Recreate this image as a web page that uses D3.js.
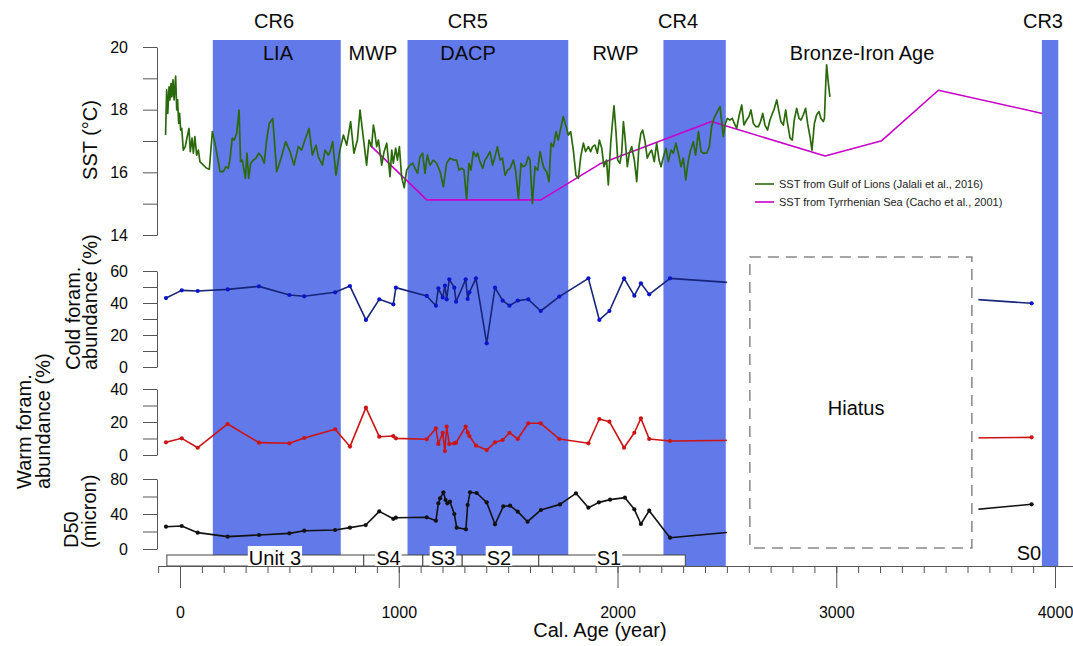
<!DOCTYPE html>
<html>
<head>
<meta charset="utf-8">
<script src="https://cdn.jsdelivr.net/npm/d3@7"></script>
<style>
  html, body { margin: 0; padding: 0; background: #fff; }
  svg { display: block; font-family: "Liberation Sans", Arial, Helvetica, sans-serif; }
</style>
</head>
<body>
<svg id="chart" width="1073" height="646"></svg>
<script>
// ---------------- data ----------------
// Cold-period bands (cal. years)
const bandStart = [150, 1040, 2210, 3940];
const bandEnd   = [735, 1775, 2495, 4015];
const crLabels   = ["CR6", "CR5", "CR4", "CR3"];
const crLabelAge = [430, 1316, 2277, 3945];

// Climate periods
const periodLabels = ["LIA", "MWP", "DACP", "RWP", "Bronze-Iron Age"];
const periodAge    = [448, 882, 1317, 1991, 3118];

// SST from Gulf of Lions (Jalali et al., 2016): [age, °C]
const sstGulf = [
  [-66,17.19],[-61,18.63],[-56,17.88],[-50,18.73],[-46,18.31],[-41,18.84],[-37,18.41],[-32,18.95],
  [-27,18.31],[-20,19.07],[-15,17.99],[-11,18.31],[-6,17.56],[-2,17.88],[3,17.35],[8,17.40],
  [15,16.71],[24,16.82],[33,17.14],[41,17.40],[47,16.66],[55,17.09],[61,16.61],[68,17.14],
  [76,16.55],[84,16.71],[91,16.34],[107,16.23],[122,16.13],[134,16.10],[140,16.61],[148,17.30],
  [160,16.93],[171,16.50],[183,16.02],[198,16.02],[210,16.18],[221,16.13],[228,16.39],[239,17.09],
  [248,17.03],[259,17.24],[270,17.99],[277,16.34],[285,16.39],[291,16.13],[299,15.81],[306,16.61],
  [314,15.81],[323,16.29],[335,16.39],[347,16.45],[360,16.61],[373,16.50],[385,16.29],[396,17.03],
  [408,17.56],[424,17.72],[442,16.02],[462,16.45],[483,16.98],[503,16.66],[521,16.23],[541,16.82],
  [556,16.71],[571,17.03],[590,17.40],[605,16.55],[622,16.87],[632,16.50],[651,16.23],[663,16.71],
  [678,16.55],[686,16.66],[698,16.98],[713,15.91],[731,16.71],[747,17.19],[762,16.87],[780,17.62],
  [795,16.61],[811,17.03],[823,17.99],[841,16.93],[853,16.23],[864,17.03],[876,16.82],[884,17.51],
  [891,17.24],[899,16.82],[907,17.03],[922,16.23],[933,16.66],[945,16.93],[952,16.45],[960,15.86],
  [968,16.71],[975,16.29],[986,16.77],[994,16.39],[1003,16.82],[1013,15.86],[1025,15.51],[1036,16.07],
  [1051,16.23],[1064,16.29],[1074,16.13],[1086,15.97],[1097,16.50],[1109,16.61],[1120,15.97],[1131,16.55],
  [1143,16.23],[1158,16.39],[1173,16.29],[1189,16.02],[1204,15.54],[1219,16.29],[1234,16.45],[1254,16.39],
  [1265,16.39],[1275,16.07],[1288,16.13],[1298,16.07],[1310,15.15],[1321,16.29],[1330,16.07],[1341,16.66],
  [1353,16.50],[1361,16.61],[1371,16.34],[1384,16.13],[1394,16.39],[1405,16.50],[1417,16.66],[1429,16.23],
  [1440,16.50],[1451,16.82],[1463,16.39],[1474,16.45],[1486,15.91],[1498,16.07],[1509,16.13],[1524,16.39],
  [1534,16.07],[1547,15.15],[1559,16.29],[1569,16.18],[1580,16.23],[1592,16.50],[1600,16.39],[1611,15.01],
  [1623,16.18],[1635,16.07],[1646,16.66],[1656,16.34],[1664,16.13],[1676,16.02],[1687,15.70],[1696,16.93],
  [1707,16.82],[1719,17.30],[1729,17.03],[1742,17.46],[1752,17.78],[1763,17.51],[1775,17.19],[1786,17.30],
  [1798,16.71],[1810,15.91],[1821,15.81],[1832,16.50],[1844,16.93],[1854,16.66],[1867,16.82],[1877,16.66],
  [1886,16.82],[1897,16.87],[1908,16.61],[1917,17.03],[1928,16.77],[1938,16.18],[1950,16.39],[1958,15.60],
  [1969,16.93],[1976,17.51],[1984,18.12],[1993,17.30],[2001,16.39],[2011,16.29],[2019,16.61],[2027,17.62],
  [2034,17.14],[2045,16.18],[2054,16.61],[2065,16.82],[2077,16.39],[2088,15.70],[2098,16.82],[2107,17.24],
  [2115,17.35],[2126,16.98],[2136,16.45],[2146,16.61],[2156,16.71],[2168,16.34],[2179,16.93],[2190,16.39],
  [2199,16.18],[2210,16.50],[2222,16.77],[2232,16.34],[2245,16.71],[2255,16.61],[2267,16.93],[2278,16.61],
  [2290,16.18],[2301,16.45],[2312,15.76],[2324,16.39],[2334,16.71],[2347,16.98],[2357,16.55],[2370,17.30],
  [2382,16.66],[2392,16.61],[2408,16.61],[2420,16.82],[2430,17.46],[2441,17.72],[2453,17.90],[2469,18.10],
  [2476,17.62],[2484,17.14],[2491,17.51],[2502,17.72],[2514,17.67],[2525,17.72],[2534,17.56],[2545,17.40],
  [2555,17.78],[2568,18.15],[2578,17.51],[2590,17.67],[2601,17.78],[2610,17.99],[2621,17.56],[2632,17.46],
  [2644,17.46],[2654,17.62],[2664,17.88],[2674,17.51],[2686,17.35],[2697,17.67],[2708,17.88],[2715,17.99],
  [2728,18.31],[2738,17.94],[2747,17.62],[2758,17.51],[2769,17.99],[2776,17.62],[2789,17.09],[2799,17.03],
  [2808,17.67],[2819,18.04],[2830,17.72],[2839,17.67],[2849,17.83],[2860,18.04],[2869,17.56],[2880,17.14],
  [2889,16.71],[2900,17.56],[2910,17.83],[2921,17.94],[2930,17.72],[2941,17.62],[2946,17.72],[2952,18.84],
  [2956,19.43],[2964,18.84],[2971,18.41]
];

// SST from Tyrrhenian Sea (Cacho et al., 2001)
const tyrAge = [869, 1128, 1650, 1920, 2430, 2949, 3208, 3467, 3942];
const tyrSST = [16.87, 15.12, 15.12, 16.27, 17.62, 16.52, 17.01, 18.62, 17.88];

// Foraminifera samples (cal. years) and abundances (%)
const foramAge = [-64, 8, 81, 218, 361, 500, 568, 709, 777, 850, 911, 975, 987, 1128, 1170, 1181,
  1201, 1211, 1219, 1231, 1254, 1262, 1306, 1315, 1323, 1353, 1402, 1440, 1475, 1506, 1544, 1592,
  1649, 1734, 1867, 1917, 1963, 2030, 2077, 2107, 2145, 2240, 3893];
const coldForam = [43.1, 47.9, 47.5, 48.5, 50.4, 45.0, 44.2, 46.7, 50.6, 29.4, 42.3, 39.2, 49.6, 44.4, 38.3, 49.2,
  43.5, 50.8, 42.3, 54.8, 49.6, 40.8, 54.8, 42.5, 46.7, 55.4, 14.8, 49.6, 41.5, 38.3, 41.5, 42.3,
  35.0, 44.0, 55.4, 29.4, 35.0, 55.4, 44.6, 52.3, 45.4, 55.4, 39.8];
const warmForam = [7.7, 10.1, 4.4, 18.8, 7.5, 7.1, 10.3, 15.6, 5.1, 28.7, 11.1, 11.5, 10.1, 9.5, 16.2, 6.7,
  13.5, 2.4, 17.2, 6.7, 7.1, 7.5, 17.2, 13.7, 11.5, 5.7, 3.0, 7.7, 9.1, 13.5, 9.7, 19.2,
  19.2, 9.7, 7.1, 21.8, 20.2, 4.4, 13.5, 22.2, 9.7, 8.5, 10.7];

// Median grain size D50 (micron)
const d50Age = [-64, 8, 81, 218, 361, 500, 568, 709, 777, 849, 911, 975, 987, 1128, 1170, 1181, 1189,
  1204, 1214, 1222, 1234, 1254, 1265, 1307, 1315, 1326, 1356, 1402, 1440, 1478, 1509, 1544, 1589,
  1650, 1737, 1810, 1867, 1915, 1966, 2034, 2077, 2107, 2145, 2240, 3893];
const d50 = [25.5, 26.3, 18.7, 14.1, 16.0, 17.9, 20.9, 21.7, 24.4, 27.4, 43.0, 34.5, 35.8, 36.2, 32.4, 52.2, 57.9,
  64.8, 56.0, 52.2, 54.1, 40.0, 24.4, 22.5, 50.3, 64.8, 64.0, 53.3, 28.2, 48.8, 49.5, 42.7, 31.2,
  44.6, 51.0, 63.6, 47.2, 53.3, 56.4, 58.7, 45.3, 28.6, 43.8, 12.9, 51.1];

// Stratigraphic units
const unitNames    = ["Unit 3", "S4", "S3", "S2", "S1"];
const unitStart    = [-60, 840, 1110, 1290, 1640];
const unitEnd      = [840, 1110, 1290, 1640, 2310];
const unitLabelAge = [434, 953, 1202, 1458, 1961];
const s0LabelAge   = 3881;

// Hiatus interval (cal. years)
const hiatusStart = 2605, hiatusEnd = 3620;
const hiatusLabelAge = 3091;
const gapStart = 2500, gapEnd = 3650;

// Axis ticks
const ageMinorTicks = d3.range(-100, 4001, 100);
const ageMajorTicks = [0, 1000, 2000, 3000, 4000];
const sstTicks  = d3.range(14, 21, 1);
const coldTicks = d3.range(0, 61, 10);
const warmTicks = d3.range(0, 41, 10);
const d50Ticks  = d3.range(0, 81, 20);

// ---------------- layout ----------------
const svg = d3.select("#chart");
const x = d3.scaleLinear().domain([0, 4000]).range([180, 1055]);
const ySST  = d3.scaleLinear().domain([14, 20]).range([235, 47]);
const yCold = d3.scaleLinear().domain([0, 60]).range([367, 271]);
const yWarm = d3.scaleLinear().domain([0, 40]).range([455, 389]);
const yD50  = d3.scaleLinear().domain([0, 80]).range([549, 479]);

const axisY = 566, bandTop = 40, axisX = 157;
const bandColor = "#6279e9";
const axisColor = "#555";
const textColor = "#0a0a0a";
const font = 20;

// bands
svg.append("g").selectAll("rect").data(bandStart).join("rect")
  .attr("x", (d, i) => x(d))
  .attr("width", (d, i) => x(bandEnd[i]) - x(d))
  .attr("y", bandTop)
  .attr("height", axisY - bandTop)
  .attr("fill", bandColor);

// band and period labels
svg.append("g").selectAll("text").data(crLabels).join("text")
  .attr("x", (d, i) => x(crLabelAge[i])).attr("y", 28)
  .attr("text-anchor", "middle").attr("font-size", font).attr("fill", textColor)
  .text(d => d);
svg.append("g").selectAll("text").data(periodLabels).join("text")
  .attr("x", (d, i) => x(periodAge[i])).attr("y", 60)
  .attr("text-anchor", "middle").attr("font-size", font).attr("fill", textColor)
  .text(d => d);

// series
const plot = svg.append("g");
function drawSeries(pts, stroke, width, dotColor) {
  plot.append("path")
    .attr("d", d3.line()(pts))
    .attr("fill", "none").attr("stroke", stroke)
    .attr("stroke-width", width).attr("stroke-linejoin", "round");
  if (dotColor) {
    plot.append("g").selectAll("circle").data(pts).join("circle")
      .attr("cx", d => d[0]).attr("cy", d => d[1]).attr("r", 2.1)
      .attr("fill", dotColor);
  }
}
drawSeries(tyrAge.map((a, i) => [x(a), ySST(tyrSST[i])]), "#c800c8", 1.6);
drawSeries(sstGulf.map(d => [x(d[0]), ySST(d[1])]), "#2b6a0c", 1.7);
drawSeries(foramAge.map((a, i) => [x(a), yCold(coldForam[i])]), "#16257a", 1.6, "#0b14c8");
drawSeries(foramAge.map((a, i) => [x(a), yWarm(warmForam[i])]), "#cc1414", 1.6, "#cc1414");
drawSeries(d50Age.map((a, i) => [x(a), yD50(d50[i])]), "#111", 1.6, "#111");

// gap with no record
svg.append("rect")
  .attr("x", x(gapStart)).attr("width", x(gapEnd) - x(gapStart))
  .attr("y", 243).attr("height", 311)
  .attr("fill", "#fff");
svg.append("rect")
  .attr("x", x(hiatusStart)).attr("width", x(hiatusEnd) - x(hiatusStart))
  .attr("y", 257).attr("height", 291)
  .attr("fill", "none").attr("stroke", "#888").attr("stroke-width", 1.5)
  .attr("stroke-dasharray", "11,7");
svg.append("text")
  .attr("x", x(hiatusLabelAge)).attr("y", 415)
  .attr("text-anchor", "middle").attr("font-size", font).attr("fill", textColor)
  .text("Hiatus");

// legend
const legend = svg.append("g").attr("transform", "translate(755,184)");
[["#2b6a0c", "SST from Gulf of Lions (Jalali et al., 2016)"],
 ["#c800c8", "SST from Tyrrhenian Sea (Cacho et al., 2001)"]].forEach((d, i) => {
  legend.append("line").attr("x1", 0).attr("x2", 19).attr("y1", i * 18).attr("y2", i * 18)
    .attr("stroke", d[0]).attr("stroke-width", 1.6);
  legend.append("text").attr("x", 24).attr("y", i * 18).attr("dy", "0.35em")
    .attr("font-size", 11).attr("fill", "#222").text(d[1]);
});

// stratigraphic unit bar
const units = svg.append("g");
units.selectAll("rect").data(unitNames).join("rect")
  .attr("x", (d, i) => x(unitStart[i]))
  .attr("width", (d, i) => x(unitEnd[i]) - x(unitStart[i]))
  .attr("y", 555).attr("height", axisY - 555)
  .attr("fill", "#fff").attr("stroke", "#444").attr("stroke-width", 1);
unitNames.forEach((name, i) => {
  const g = units.append("g");
  const bg = g.append("rect").attr("fill", "#fff");
  const t = g.append("text")
    .attr("x", x(unitLabelAge[i])).attr("y", 565)
    .attr("text-anchor", "middle").attr("font-size", font).attr("fill", textColor)
    .text(name);
  const b = t.node().getBBox();
  bg.attr("x", b.x - 1).attr("width", b.width + 2).attr("y", 546).attr("height", axisY - 546);
});
units.append("text")
  .attr("x", x(s0LabelAge)).attr("y", 560)
  .attr("text-anchor", "middle").attr("font-size", font).attr("fill", textColor)
  .text("S0");

// x axis
const xAxisScale = x.copy().domain([-100, 4080]).range([x(-100), x(4080)]);
const gxMinor = svg.append("g").attr("transform", `translate(0,${axisY})`)
  .call(d3.axisBottom(xAxisScale).tickValues(ageMinorTicks).tickSize(7).tickSizeOuter(0).tickFormat(""));
const gxMajor = svg.append("g").attr("transform", `translate(0,${axisY})`)
  .call(d3.axisBottom(xAxisScale).tickValues(ageMajorTicks).tickSize(22).tickPadding(18.5).tickFormat(d3.format("d")));
gxMajor.select(".domain").remove();
[gxMinor, gxMajor].forEach(g => {
  g.selectAll("path, line").attr("stroke", axisColor).attr("stroke-width", 1);
  g.selectAll("text").attr("font-size", 16).attr("fill", textColor)
    .attr("font-family", '"Liberation Sans", Arial, sans-serif');
});
svg.append("text").attr("x", 600).attr("y", 637)
  .attr("text-anchor", "middle").attr("font-size", font).attr("fill", textColor)
  .text("Cal. Age (year)");

// y axes
function yAxis(scale, ticks, labelEvery) {
  const g = svg.append("g").attr("transform", `translate(${axisX},0)`)
    .call(d3.axisLeft(scale).tickValues(ticks).tickSize(14).tickPadding(15).tickSizeOuter(0)
      .tickFormat(d => (d % labelEvery === 0 ? d : "")));
  g.selectAll("path, line").attr("stroke", axisColor).attr("stroke-width", 1);
  g.selectAll("text").attr("font-size", 16).attr("fill", textColor)
    .attr("font-family", '"Liberation Sans", Arial, sans-serif');
}
yAxis(ySST, sstTicks, 2);
yAxis(yCold, coldTicks, 20);
yAxis(yWarm, warmTicks, 20);
yAxis(yD50, d50Ticks, 40);

// y axis titles
function vTitle(tx, ty, anchor, text) {
  svg.append("text")
    .attr("transform", `translate(${tx},${ty}) rotate(-90)`)
    .attr("text-anchor", anchor).attr("font-size", font).attr("fill", textColor)
    .text(text);
}
vTitle(97, 140, "middle", "SST (°C)");
vTitle(80, 370, "start", "Cold foram.");
vTitle(97, 370, "start", "abundance (%)");
vTitle(31, 489, "start", "Warm foram.");
vTitle(50, 489, "start", "abundance (%)");
vTitle(78, 548, "start", "D50");
vTitle(96, 548, "start", "(micron)");
</script>
</body>
</html>
